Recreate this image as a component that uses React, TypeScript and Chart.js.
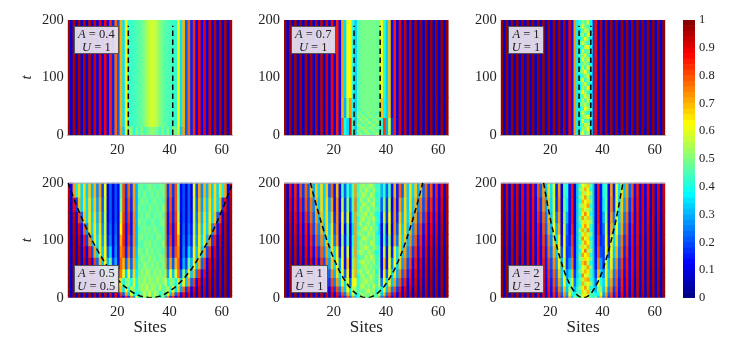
import React, { useEffect, useRef } from "react";
import { Chart, registerables } from "chart.js";

Chart.register(...registerables);

const SERIF = "'Liberation Serif', serif";

const xTicks = [20, 40, 60];
const yTicks = [0, 100, 200];
const barTicks = [0, 0.1, 0.2, 0.3, 0.4, 0.5, 0.6, 0.7, 0.8, 0.9, 1];
const barLevels = [0,.02,.04,.06,.08,.1,.12,.14,.16,.18,.2,.22,.24,.26,.28,.3,.32,.34,.36,.38,.4,.42,.44,.46,.48,.5,.52,.54,.56,.58,.6,.62,.64,.66,.68,.7,.72,.74,.76,.78,.8,.82,.84,.86,.88,.9,.92,.94,.96,.98];

const edgesA = [200, 15, 0];
const rowsA = [
  [97,8,96,8,96,8,95,8,94,9,92,10,90,12,88,13,84,16,78,22,70,35,63,42,43,44,45,46,48,50,54,57,58],
  [97,8,96,8,96,8,95,8,94,9,92,10,90,12,88,13,84,16,78,22,72,32,58,48,52,40,50,44,50,44,48,50,52],
];
const edgesB = [200, 65, 30, 0];
const rowsB = [
  [97,8,97,8,97,8,97,8,96,8,96,8,95,8,94,8,92,8,88,10,85,14,72,34,62,63,42,33,45,48,49,49,49,49,49,48,48,62,42,33,70,14,85,10,90,8,93,8,95,8,96,8,97,8,97,8,97,8,98,8,98,8,98],
  [97,8,97,8,97,8,97,8,96,8,96,8,95,8,94,8,92,8,88,10,85,14,70,30,55,72,40,33,45,48,49,49,49,49,49,48,48,68,38,33,70,14,85,10,90,8,93,8,95,8,96,8,97,8,97,8,97,8,98,8,98,8,98],
  [97,8,97,8,97,8,97,8,96,8,96,8,95,8,94,8,92,8,88,10,85,14,78,40,34,86,45,32,42,48,49,49,49,49,49,48,48,40,82,30,58,18,85,10,90,8,93,8,95,8,96,8,97,8,97,8,97,8,98,8,98,8,98],
];
const edgesC = [200, 0];
const rowsC = [
  [98,8,98,8,98,8,98,8,98,8,98,8,98,8,98,8,98,8,98,8,97,8,97,8,96,8,90,15,72,36,48,48,48,48,48,18,88,8,95,8,97,8,97,8,98,8,98,8,98,8,98,8,98,8,98,8,98,8,98,8,98,8,98],
];
const edgesBottom = [200, 175, 150, 130, 110, 90, 70, 50, 35, 20, 10, 4, 0];
const rowsD = [
  [95,12,72,36,66,34,66,33,68,30,70,26,72,20,60,10,22,8,20,12,45,80,18,78,18,72,30,44,47,47,48,48],
  [96,8,88,18,70,34,66,34,66,32,68,28,70,22,58,10,22,8,20,12,48,80,16,80,16,72,30,44,47,47,48,48],
  [97,8,94,10,82,22,68,34,65,33,66,30,68,24,56,12,22,8,20,10,55,82,16,82,14,74,30,44,47,47,48,48],
  [97,8,95,8,90,14,78,26,66,34,65,32,66,26,56,14,24,8,22,8,62,84,14,84,14,74,30,44,47,47,48,48],
  [97,8,96,8,93,8,86,18,74,30,65,34,65,28,58,16,26,8,24,8,70,84,14,82,16,74,30,44,47,48,48,48],
  [98,8,96,8,95,8,90,10,84,20,72,32,65,32,63,22,34,10,26,8,74,80,16,78,18,72,32,44,48,48,48,49],
  [98,8,97,8,96,8,93,8,90,12,82,22,70,32,64,30,48,18,30,12,78,70,22,72,22,70,34,44,48,48,49,50],
  [98,8,97,8,96,8,95,8,92,8,88,14,82,24,70,32,64,28,50,22,76,60,32,62,28,66,36,45,48,49,50,52],
  [98,8,97,8,96,8,96,8,94,8,92,8,88,14,82,22,72,32,64,34,66,40,50,52,40,60,38,46,48,50,52,54],
  [98,8,98,8,97,8,96,8,95,8,94,8,92,8,90,12,84,18,78,28,68,35,62,40,55,50,42,46,50,52,54,55],
  [98,8,98,8,97,8,96,8,96,8,95,8,94,8,93,8,90,10,88,14,82,22,72,32,62,40,38,40,50,55,56,50],
  [98,8,98,8,98,8,97,8,96,8,96,8,95,8,95,8,93,8,92,8,90,12,84,18,75,28,60,36,40,35,55,45],
];
const rowsE = [
  [95,8,88,12,85,14,80,18,78,22,70,30,68,34,66,33,68,22,78,15,70,14,45,22,42,30,45,72,32,50,50,52],
  [96,8,90,10,86,14,84,16,80,20,76,26,70,32,66,33,66,28,72,14,74,12,55,18,50,22,45,75,32,50,50,52],
  [96,8,92,8,88,12,86,14,84,18,78,22,72,30,68,34,66,30,68,16,74,14,62,18,58,16,40,72,32,50,52,52],
  [97,8,94,8,90,10,88,12,86,14,82,20,76,26,70,32,66,32,66,20,74,12,60,12,48,10,35,72,32,50,52,54],
  [97,8,95,8,92,8,90,10,88,12,84,16,80,24,74,30,68,34,66,24,72,12,52,15,45,10,40,72,32,50,52,54],
  [98,8,96,8,94,8,92,8,90,10,86,14,84,18,78,26,72,32,66,34,64,16,60,14,58,12,45,72,32,50,52,54],
  [98,8,97,8,95,8,94,8,92,8,90,10,86,14,82,20,76,28,68,34,62,26,62,14,68,10,48,70,32,50,52,54],
  [98,8,97,8,96,8,95,8,93,8,91,8,89,10,86,16,80,22,74,30,66,34,62,22,64,14,55,70,32,50,52,54],
  [98,8,97,8,96,8,96,8,94,8,93,8,91,8,89,12,85,18,80,25,72,32,64,34,62,24,60,62,34,52,54,52],
  [98,8,98,8,97,8,96,8,95,8,95,8,93,8,92,8,90,12,86,18,80,24,72,32,62,36,56,52,38,52,54,54],
  [98,8,98,8,97,8,97,8,96,8,96,8,95,8,94,8,92,8,90,12,86,18,80,24,70,32,60,38,48,52,54,54],
  [98,8,98,8,98,8,97,8,97,8,96,8,96,8,95,8,94,8,92,8,90,12,86,18,80,24,72,32,60,40,48,52],
];
const rowsF = [
  [96,8,92,8,90,10,92,8,88,12,90,10,86,14,80,22,72,32,66,35,60,16,72,12,45,40,14,86,8,32,55,58,58],
  [96,8,93,8,91,9,92,8,89,11,90,10,87,13,82,18,74,28,68,34,58,18,74,12,48,36,14,86,8,32,55,58,58],
  [97,8,94,8,92,8,92,8,90,10,90,10,88,12,84,16,78,24,70,32,60,24,72,12,52,30,14,86,8,32,55,58,58],
  [97,8,95,8,93,8,93,8,91,9,90,10,88,12,86,14,80,22,72,30,62,30,70,12,58,24,14,84,8,32,55,58,58],
  [97,8,95,8,94,8,93,8,92,8,91,9,89,11,87,14,82,18,76,26,66,34,64,14,62,20,16,82,10,32,55,58,58],
  [98,8,96,8,95,8,94,8,92,8,91,9,90,10,88,12,84,16,78,24,70,32,62,20,62,18,20,80,12,32,55,58,58],
  [98,8,96,8,95,8,94,8,93,8,92,8,90,10,88,12,86,15,82,20,74,28,64,30,58,18,28,76,14,32,55,58,58],
  [98,8,97,8,96,8,95,8,94,8,92,8,91,9,89,11,87,14,84,18,78,24,68,33,60,26,34,70,18,34,55,58,58],
  [98,8,97,8,96,8,95,8,94,8,93,8,92,8,90,10,88,12,85,15,80,22,72,30,62,34,42,60,24,36,55,58,58],
  [98,8,97,8,96,8,96,8,95,8,94,8,92,8,91,9,89,11,86,14,82,18,76,26,68,32,52,50,30,40,55,58,58],
  [98,8,98,8,97,8,96,8,96,8,95,8,94,8,92,8,90,10,88,12,84,16,80,22,72,28,62,40,38,45,55,58,58],
  [98,8,98,8,98,8,97,8,96,8,96,8,95,8,93,8,92,8,90,10,86,14,82,18,76,24,68,32,50,40,50,55,55],
];

const speckleB = [
  [47,50,46,49,51,47,49,46],[51,47,52,46,49,52,46,50],[46,52,49,53,47,46,51,49],[49,46,51,47,53,50,47,52],
  [52,49,46,51,46,49,53,46],[46,51,53,47,50,52,46,50],[50,46,49,54,46,47,51,46],[47,53,46,50,52,46,49,53],
];
const speckleC = [
  [40,52,46,58,38],[46,60,50,44,42],[36,48,56,52,40],[44,54,42,60,46],[38,46,62,48,36],[48,58,50,42,44],[42,44,56,62,38],
  [36,56,46,50,46],[46,50,60,44,36],[40,62,48,56,42],[44,46,54,48,38],[36,58,44,60,46],[48,52,62,46,40],[38,44,50,58,36],
  [46,60,42,52,44],[40,48,58,46,38],[36,54,46,62,42],[44,62,52,44,36],[42,46,60,50,46],[38,56,44,58,40],[48,50,56,46,36],
  [36,44,62,52,44],[46,58,48,42,38],[40,52,54,60,46],[38,60,44,48,36],[44,46,58,54,42],[36,54,50,62,40],[46,62,46,52,44],
];
const speckleD = [
  [46,48,44,47,50,46,48,45,49,47],[48,45,50,46,47,49,45,50,46,48],[45,50,47,49,45,48,50,46,48,45],[49,46,48,45,50,47,46,49,45,50],
  [46,49,45,50,48,45,49,47,50,46],[50,47,49,46,45,50,47,45,48,49],[45,48,50,47,49,46,50,48,45,47],[48,50,46,49,47,48,45,50,49,46],
  [47,45,50,48,51,46,49,47,46,50],[50,48,46,52,47,50,46,49,48,45],[46,51,49,47,52,48,50,46,51,48],[49,47,53,50,48,52,47,51,46,50],
  [47,52,48,54,50,47,53,49,52,47],[51,49,55,48,53,51,48,54,49,51],[48,54,50,56,49,54,52,48,55,46],[44,50,56,48,58,46,55,50,42,48],
];
const speckleE = [
  [44,50,54,48,52,55,48,42],[42,52,48,55,50,47,53,44],[46,48,55,51,47,55,50,40],[40,53,50,47,56,48,52,44],
  [44,47,55,52,48,51,55,42],[42,55,48,50,55,47,50,46],[46,50,52,56,47,53,48,40],[40,51,55,48,52,50,55,44],
  [44,55,47,51,54,47,51,42],[42,48,53,55,48,56,47,46],[46,52,50,47,55,50,53,40],[40,47,56,53,50,48,51,44],
  [44,54,48,51,47,55,52,42],[42,50,53,56,51,47,54,46],[46,55,51,48,54,52,47,40],[40,48,47,55,50,56,51,44],
  [44,52,56,50,53,48,54,42],[42,47,51,54,48,52,47,46],[46,56,48,52,55,47,53,40],[40,50,54,47,51,55,50,44],
  [44,48,51,56,50,53,48,42],[42,54,55,48,52,47,56,46],[46,50,47,53,56,51,52,40],[40,53,52,50,47,54,48,44],
];
const speckleF = [
  [44,62,56,68,46],[50,56,70,58,42],[42,66,54,62,52],[48,58,72,56,44],[40,70,60,66,50],[52,54,64,72,42],[44,68,58,54,48],
  [42,60,74,62,40],[50,72,56,68,46],[46,56,66,58,52],[40,64,72,60,44],[52,70,54,74,42],[44,58,68,56,50],[48,74,60,66,40],
  [42,56,72,62,46],[50,66,58,70,44],[40,60,76,54,52],[46,72,62,68,42],[52,54,66,60,48],[44,68,74,56,40],[42,62,56,72,50],
  [50,58,70,64,44],[40,74,60,56,46],[48,56,68,72,42],[44,70,54,62,52],[52,60,72,58,40],[42,66,58,70,46],[48,58,64,56,44],
];

const linesTop = [[24.2, 41.2], [27.8, 37.8], [31, 35.5]];
const lineTopTimes = [0, 190];
const frontTimes = [1, 3, 6, 10, 20, 35, 50, 75, 100, 130, 160, 200];
const frontCentre = 32.6;
const frontD = [2.2, 3.9, 5.5, 7, 10, 13.2, 15.8, 19.3, 22.3, 25.4, 28.2, 31.5];
const frontE = [1.5, 2.6, 3.7, 4.8, 6.8, 9, 10.8, 13.2, 15.2, 17.3, 19.2, 21.5];
const frontF = [1.1, 1.9, 2.6, 3.4, 4.8, 6.4, 7.6, 9.3, 10.7, 12.3, 13.6, 15.2];
const topEdgeSites = [1, 64];

const panels = [
  { a: "0.4", u: "1", left: 67.7, top: 20, edges: edgesA, rows: rowsA, centre: 33, vertical: linesTop[0], boxX: 74, boxW: 44.7, boxTop: true },
  { a: "0.7", u: "1", left: 284, top: 20, edges: edgesB, rows: rowsB, centre: 0, vertical: linesTop[1], speckle: speckleB, speckleFirst: 29, speckleT: [0, 40], boxX: 290.7, boxW: 45, boxTop: true },
  { a: "1", u: "1", left: 500.7, top: 20, edges: edgesC, rows: rowsC, centre: 0, vertical: linesTop[2], speckle: speckleC, speckleFirst: 31, speckleT: [0, 200], boxX: 507.7, boxW: 36.6, boxTop: true },
  { a: "0.5", u: "0.5", left: 67.7, top: 182.7, edges: edgesBottom, rows: rowsD, centre: 32, front: frontD, speckle: speckleD, speckleFirst: 28, speckleT: [0, 200], boxX: 74, boxW: 44.7, boxTop: false },
  { a: "1", u: "1", left: 284, top: 182.7, edges: edgesBottom, rows: rowsE, centre: 32, front: frontE, speckle: speckleE, speckleFirst: 29, speckleT: [0, 200], boxX: 290.7, boxW: 37, boxTop: false },
  { a: "2", u: "2", left: 500.7, top: 182.7, edges: edgesBottom, rows: rowsF, centre: 33, front: frontF, speckle: speckleF, speckleFirst: 31, speckleT: [0, 200], boxX: 507.7, boxW: 36.6, boxTop: false },
];

const PLOT_W = 164.6;
const PLOT_H = 115;
const AXIS_W = 49;
const AXIS_H = 40;
const TOP_ROOM = 10;

function jet(percent: number) {
  const v = percent / 100;
  const c = (x: number) => Math.round(255 * Math.max(0, Math.min(1, 1.5 - Math.abs(4 * v - x))));
  return `rgb(${c(3)},${c(2)},${c(1)})`;
}

function expand(row: number[], centre: number) {
  if (!centre) return row;
  const out: number[] = [];
  for (let site = 1; site <= 63; site++) {
    out.push(row[(site <= centre ? site : 2 * centre - site) - 1]);
  }
  return out;
}

function bandDataset(values: number[], firstSite: number, t0: number, t1: number, order: number) {
  return {
    type: "bar",
    order,
    grouped: false,
    barPercentage: 1,
    categoryPercentage: 1,
    borderWidth: 0,
    data: values.map((_, i) => ({ x: firstSite + i + 0.5, y: [t0, t1] })),
    backgroundColor: values.map(jet),
  };
}

function lineDataset(points: { x: number; y: number }[]) {
  return {
    type: "line",
    order: 0,
    data: points,
    borderColor: "#000",
    borderWidth: 1.5,
    borderDash: [5.5, 3.5],
    pointRadius: 0,
    fill: false,
    tension: 0,
  };
}

function panelDatasets(p: any, bottom: boolean) {
  const sets: any[] = [];
  p.rows.forEach((row: number[], i: number) => {
    sets.push(bandDataset(expand(row, p.centre), 1, p.edges[i + 1], p.edges[i], 2));
  });
  if (p.speckle) {
    const [t0, t1] = p.speckleT;
    const h = (t1 - t0) / p.speckle.length;
    p.speckle.forEach((row: number[], i: number) => {
      sets.push(bandDataset(row, p.speckleFirst, t1 - (i + 1) * h, t1 - i * h, 1));
    });
  }
  if (p.vertical) {
    p.vertical.forEach((site: number) => {
      sets.push(lineDataset(lineTopTimes.map((t) => ({ x: site, y: t }))));
    });
  }
  if (p.front) {
    const leftSide = frontTimes.map((t, i) => ({ x: frontCentre - p.front[i], y: t })).reverse();
    const rightSide = frontTimes.map((t, i) => ({ x: frontCentre + p.front[i], y: t }));
    sets.push(lineDataset([...leftSide, { x: frontCentre, y: 0 }, ...rightSide]));
  }
  if (bottom) {
    sets.push({
      type: "line",
      order: 0,
      data: topEdgeSites.map((x) => ({ x, y: 200 })),
      borderColor: "#b0b0b0",
      borderWidth: 2,
      pointRadius: 0,
    });
  }
  return sets;
}

const noMargins = (s: any) => {
  s.paddingTop = 0;
  s.paddingBottom = 0;
  s.paddingLeft = 0;
  s.paddingRight = 0;
};

function Panel({ p, bottom }: { p: any; bottom: boolean }) {
  const ref = useRef<HTMLCanvasElement>(null);
  const canvasLeft = Math.floor(p.left - AXIS_W);
  const canvasTop = Math.floor(p.top - TOP_ROOM);
  const yW = p.left - canvasLeft;
  const pad = p.top - canvasTop;
  const w = Math.ceil(yW + PLOT_W + 4);
  const h = Math.ceil(pad + PLOT_H + AXIS_H);
  useEffect(() => {
    const chart = new Chart(ref.current as HTMLCanvasElement, {
      type: "bar",
      data: { datasets: panelDatasets(p, bottom) as any },
      options: {
        responsive: false,
        animation: false,
        events: [],
        layout: { padding: { top: pad, right: w - yW - PLOT_W, bottom: h - pad - PLOT_H - AXIS_H, left: 0 } },
        plugins: { legend: { display: false }, tooltip: { enabled: false } },
        scales: {
          x: {
            type: "linear",
            offset: false,
            min: 1,
            max: 64,
            grid: { display: false, drawTicks: false },
            border: { display: !bottom, color: "#b0b0b0", z: 2 },
            afterBuildTicks: (s: any) => { s.ticks = xTicks.map((value) => ({ value })); },
            afterFit: (s: any) => { s.height = AXIS_H; noMargins(s); },
            ticks: { padding: 6, maxRotation: 0, autoSkip: false, color: "#222", font: { family: SERIF, size: 14.5 } },
            title: { display: bottom, text: "Sites", color: "#222", padding: 0, font: { family: SERIF, size: 17 } },
          },
          y: {
            type: "linear",
            min: 0,
            max: 200,
            grid: { display: false, drawTicks: false },
            border: { display: false },
            afterBuildTicks: (s: any) => { s.ticks = yTicks.map((value) => ({ value })); },
            afterFit: (s: any) => { s.width = yW; noMargins(s); },
            ticks: { padding: 4, autoSkip: false, color: "#222", font: { family: SERIF, size: 14.5 } },
            title: { display: p.left < 100, text: "t", color: "#222", padding: 0, font: { family: SERIF, size: 15, style: "italic" } },
          },
        },
      } as any,
    });
    return () => chart.destroy();
  }, []);
  const boxTop = p.boxTop ? 26 : 265;
  return (
    <>
      <canvas ref={ref} width={w} height={h} style={{ position: "absolute", left: canvasLeft, top: canvasTop, width: w, height: h }} />
      <div
        style={{
          position: "absolute",
          left: p.boxX,
          top: boxTop,
          width: p.boxW,
          height: 28,
          boxSizing: "border-box",
          border: "1px solid #555",
          background: "rgba(232,230,242,0.92)",
          fontFamily: SERIF,
          fontSize: 12.5,
          lineHeight: "13px",
          color: "#222",
          textAlign: "center",
          paddingTop: 0.5,
          whiteSpace: "nowrap",
        }}
      >
        <div><i>A</i> = {p.a}</div>
        <div><i>U</i> = {p.u}</div>
      </div>
    </>
  );
}

function ColorBar() {
  const ref = useRef<HTMLCanvasElement>(null);
  useEffect(() => {
    const chart = new Chart(ref.current as HTMLCanvasElement, {
      type: "bar",
      data: {
        labels: ["density"],
        datasets: barLevels.map((v) => ({
          grouped: false,
          barPercentage: 1,
          categoryPercentage: 1,
          borderWidth: 0,
          data: [[v, v + 0.02]],
          backgroundColor: jet((v + 0.01) * 100),
        })) as any,
      },
      options: {
        responsive: false,
        animation: false,
        events: [],
        layout: { padding: { top: 6, left: 3, right: 0, bottom: 6 } },
        plugins: { legend: { display: false }, tooltip: { enabled: false } },
        scales: {
          x: { display: false },
          y: {
            position: "right",
            min: 0,
            max: 1,
            grid: { display: false, drawTicks: false },
            border: { display: false },
            afterBuildTicks: (s: any) => { s.ticks = barTicks.map((value) => ({ value })); },
            afterFit: (s: any) => { s.width = 44; noMargins(s); },
            ticks: {
              padding: 4,
              autoSkip: false,
              color: "#222",
              font: { family: SERIF, size: 12.5 },
              callback: (v: any) => String(v),
            },
          },
        },
      } as any,
    });
    return () => chart.destroy();
  }, []);
  return <canvas ref={ref} width={59} height={290} style={{ position: "absolute", left: 680, top: 14, width: 59, height: 290 }} />;
}

export default function App() {
  return (
    <div style={{ position: "fixed", left: 0, top: 0, width: 747, height: 349, background: "#fff", overflow: "hidden" }}>
      {panels.map((p, i) => (
        <Panel key={i} p={p} bottom={i >= 3} />
      ))}
      <ColorBar />
    </div>
  );
}
